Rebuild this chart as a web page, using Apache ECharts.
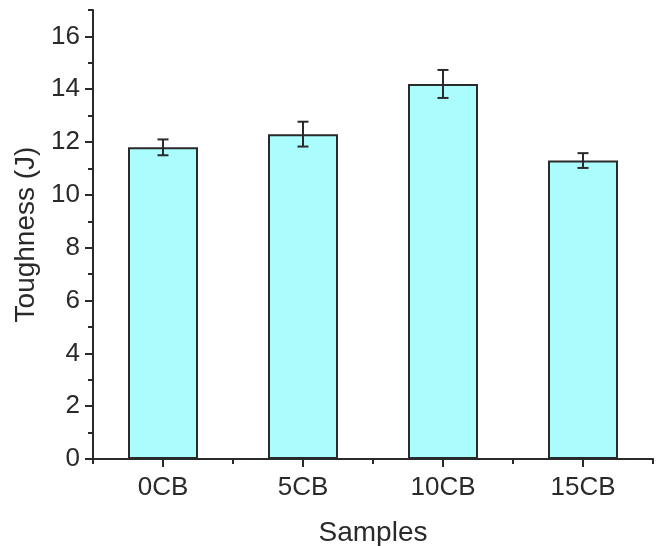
<!DOCTYPE html>
<html>
<head>
<meta charset="utf-8">
<script src="https://cdn.jsdelivr.net/npm/echarts@6/dist/echarts.min.js"></script>
<style>
html,body{margin:0;padding:0;background:#fff;}
#chart{width:659px;height:546px;}
</style>
</head>
<body>
<div id="chart"></div>
<script>
const categories = ['0CB', '5CB', '10CB', '15CB'];
const toughness = [11.8, 12.3, 14.2, 11.3];
const errors = [0.3, 0.47, 0.53, 0.28];
const yMajorTicks = [0, 2, 4, 6, 8, 10, 12, 14, 16];
const yMinorTicks = [1, 3, 5, 7, 9, 11, 13, 15, 17];

const FONT = '"Liberation Sans", Arial, sans-serif';
const INK = '#2a2a2a';

const errData = categories.map((c, i) => [i, toughness[i] - errors[i], toughness[i] + errors[i]]);

const chart = echarts.init(document.getElementById('chart'));
chart.setOption({
  animation: false,
  backgroundColor: '#ffffff',
  grid: { left: 93, right: 6, top: 10, bottom: 87, containLabel: false, outerBoundsMode: 'none' },
  xAxis: [
    {
      type: 'category',
      data: categories,
      boundaryGap: true,
      name: 'Samples',
      nameLocation: 'middle',
      nameGap: 60,
      nameTextStyle: { fontFamily: FONT, fontSize: 28, color: INK },
      axisLine: { show: true, lineStyle: { color: INK, width: 2 } },
      axisTick: { show: true, alignWithLabel: true, length: 8, lineStyle: { color: INK, width: 2 } },
      axisLabel: { margin: 16, fontFamily: FONT, fontSize: 26, color: INK },
      splitLine: { show: false }
    },
    {
      type: 'category',
      data: categories,
      boundaryGap: true,
      position: 'bottom',
      axisLine: { show: false },
      axisTick: { show: true, alignWithLabel: false, length: 5, lineStyle: { color: INK, width: 2 } },
      axisLabel: { show: false },
      splitLine: { show: false }
    }
  ],
  yAxis: [
    {
      type: 'value',
      min: 0,
      max: 17,
      interval: 1,
      name: 'Toughness (J)',
      nameLocation: 'middle',
      nameGap: 48,
      nameTextStyle: { fontFamily: FONT, fontSize: 28, color: INK },
      axisLine: { show: true, lineStyle: { color: INK, width: 2 } },
      axisTick: { show: true, length: 8, customValues: yMajorTicks, lineStyle: { color: INK, width: 2 } },
      axisLabel: { margin: 13, customValues: yMajorTicks, fontFamily: FONT, fontSize: 26, color: INK },
      splitLine: { show: false }
    },
    {
      type: 'value',
      min: 0,
      max: 17,
      interval: 1,
      position: 'left',
      axisLine: { show: false },
      axisTick: { show: true, length: 5, customValues: yMinorTicks, lineStyle: { color: INK, width: 2 } },
      axisLabel: { show: false },
      splitLine: { show: false }
    }
  ],
  series: [
    {
      type: 'bar',
      data: toughness,
      barWidth: '50%',
      itemStyle: { color: '#abfdfd', borderColor: INK, borderWidth: 2 }
    },
    {
      type: 'custom',
      data: errData,
      z: 10,
      renderItem: function (params, api) {
        const i = api.value(0);
        const lo = api.coord([i, api.value(1)]);
        const hi = api.coord([i, api.value(2)]);
        const w = 5.5;
        const style = { stroke: INK, lineWidth: 2 };
        return {
          type: 'group',
          children: [
            { type: 'line', shape: { x1: hi[0], y1: hi[1], x2: lo[0], y2: lo[1] }, style: style },
            { type: 'line', shape: { x1: hi[0] - w, y1: hi[1], x2: hi[0] + w, y2: hi[1] }, style: style },
            { type: 'line', shape: { x1: lo[0] - w, y1: lo[1], x2: lo[0] + w, y2: lo[1] }, style: style }
          ]
        };
      }
    }
  ]
});
</script>
</body>
</html>
